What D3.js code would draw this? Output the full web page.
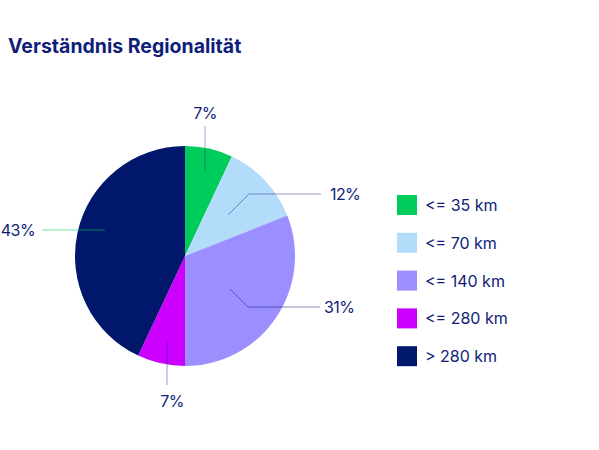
<!DOCTYPE html>
<html>
<head>
<meta charset="utf-8">
<script src="https://cdn.jsdelivr.net/npm/d3@7"></script>
<style>
  body { margin: 0; background: #fff; }
  text { font-family: Inter, "Noto Sans", sans-serif; }
</style>
</head>
<body>
<svg></svg>
<script>
var svgWidth = 599, svgHeight = 450;
var categories = ['<= 35 km', '<= 70 km', '<= 140 km', '<= 280 km', '> 280 km'];
var values = [7, 12, 31, 7, 43];
var labels = ['7%', '12%', '31%', '7%', '43%'];
var colors = ['#00cc5c', '#b3dcfa', '#9b8fff', '#cc00ff', '#00176b'];
var textColor = '#0f1e78';

var cx = 185, cy = 256, radius = 110;

var svg = d3.select('svg')
    .attr('width', svgWidth)
    .attr('height', svgHeight);

svg.append('text')
    .attr('x', 8)
    .attr('y', 53)
    .attr('fill', textColor)
    .attr('font-size', 19.5)
    .attr('font-weight', 700)
    .text('Verständnis Regionalität');

var pie = d3.pie().sort(null).value(function (d) { return d; });
var arcs = pie(values);
var arc = d3.arc().innerRadius(0).outerRadius(radius);

var g = svg.append('g')
    .attr('transform', 'translate(' + cx + ',' + cy + ')');

g.selectAll('path')
    .data(arcs)
    .enter()
    .append('path')
    .attr('d', arc)
    .attr('fill', function (d, i) { return colors[i]; });

// leader lines, relative to the pie centre: start inside slice, elbow, end near label
var leaders = [
    { pts: [[20, -85], [20, -130]], lx: 20, ly: -137, anchor: 'middle', base: 'auto' },
    { pts: [[43, -41], [64, -62], [136, -62]], lx: 145, ly: -62, anchor: 'start', base: 'central' },
    { pts: [[45, 33], [63, 51], [135, 51]], lx: 139, ly: 51, anchor: 'start', base: 'central' },
    { pts: [[-18, 85], [-18, 129]], lx: -13, ly: 151, anchor: 'middle', base: 'auto' },
    { pts: [[-80, -26], [-143, -26]], lx: -150, ly: -26, anchor: 'end', base: 'central' }
];
var lineColors = ['rgba(15,30,120,0.4)', 'rgba(15,30,120,0.45)', 'rgba(15,30,120,0.5)',
    'rgba(15,30,120,0.45)', 'rgba(0,204,92,0.55)'];

var line = d3.line();
g.selectAll('.leader')
    .data(arcs)
    .enter()
    .append('path')
    .attr('class', 'leader')
    .attr('fill', 'none')
    .attr('stroke', function (d, i) { return lineColors[i]; })
    .attr('stroke-width', 1)
    .attr('d', function (d, i) { return line(leaders[i].pts); });

g.selectAll('.pct')
    .data(arcs)
    .enter()
    .append('text')
    .attr('class', 'pct')
    .attr('x', function (d, i) { return leaders[i].lx; })
    .attr('y', function (d, i) { return leaders[i].ly; })
    .attr('text-anchor', function (d, i) { return leaders[i].anchor; })
    .attr('dominant-baseline', function (d, i) { return leaders[i].base; })
    .attr('fill', textColor)
    .attr('font-size', 16)
    .attr('letter-spacing', -0.6)
    .text(function (d, i) { return labels[i]; });

var legend = svg.append('g')
    .attr('transform', 'translate(397,195)');

var item = legend.selectAll('g')
    .data(categories)
    .enter()
    .append('g')
    .attr('transform', function (d, i) { return 'translate(0,' + (i * 37.8) + ')'; });

item.append('rect')
    .attr('width', 20)
    .attr('height', 20)
    .attr('fill', function (d, i) { return colors[i]; });

item.append('text')
    .attr('x', 28)
    .attr('y', 10)
    .attr('dominant-baseline', 'central')
    .attr('fill', textColor)
    .attr('font-size', 16)
    .text(function (d) { return d; });
</script>
</body>
</html>
